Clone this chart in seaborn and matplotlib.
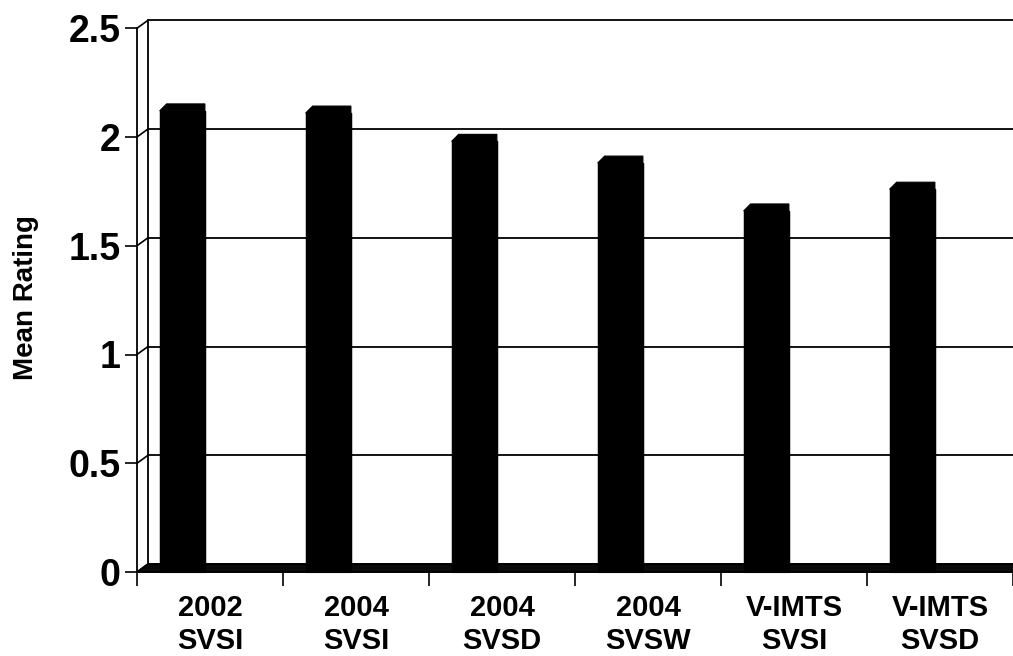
import matplotlib
matplotlib.use("Agg")
import matplotlib.pyplot as plt
import matplotlib.transforms as mtransforms
from matplotlib.patches import Polygon
from matplotlib.lines import Line2D
import numpy as np
import pandas as pd
import seaborn as sns


# ---- Data ----------------------------------------------------####

categories = ['2002\nSVSI', '2004\nSVSI', '2004\nSVSD', '2004\nSVSW', 'V-IMTS\nSVSI', 'V-IMTS\nSVSD']
mean_rating = [2.12, 2.11, 1.98, 1.88, 1.66, 1.76]
y_ticks = [0, 0.5, 1, 1.5, 2, 2.5]
y_tick_labels = ['0', '0.5', '1', '1.5', '2', '2.5']

df = pd.DataFrame({'group': categories, 'rating': mean_rating})


# ---- Plot -----------------------------------------------------------####

sns.set_style('white')
plt.rcParams['font.family'] = ['Liberation Sans', 'DejaVu Sans']
plt.rcParams['font.weight'] = 'bold'
plt.rcParams['text.color'] = 'black'
plt.rcParams['axes.labelcolor'] = 'black'
plt.rcParams['xtick.color'] = 'black'
plt.rcParams['ytick.color'] = 'black'

fig = plt.figure(figsize=(10.13, 6.56), dpi=100)
ax = fig.add_axes([137 / 1013, 84 / 656, 876 / 1013, 543.75 / 656])

sns.barplot(data=df, x='group', y='rating', color='black', width=0.31,
            saturation=1, ax=ax, zorder=3)

ax.set_xlim(-0.5, len(categories) - 0.5)
ax.set_ylim(0, 2.5)

# shift bars toward left of each category (3D clustered look)
for p in ax.patches:
    p.set_x(p.get_x() - 0.19)
    p.set_edgecolor('black')

# 3d offsets in pixels
dx, dy = 11, 8
ident = mtransforms.IdentityTransform()
fig.canvas.draw()
to_px = ax.transData.transform

# back wall gridlines
for v in y_ticks:
    x0, y0 = to_px((-0.5, v))
    x1, _ = to_px((len(categories) - 0.5, v))
    fig.add_artist(Line2D([x0 + dx, x1 + dx], [y0 + dy, y0 + dy], transform=ident,
                          color='black', lw=1.3))
    # connector from front tick to back wall
    fig.add_artist(Line2D([x0, x0 + dx], [y0, y0 + dy], transform=ident, color='black', lw=1.2))

# left walls
xb, yb = to_px((-0.5, 0))
_, yt = to_px((-0.5, 2.5))
fig.add_artist(Line2D([xb + dx, xb + dx], [yb + dy, yt + dy], transform=ident, color='black', lw=1.3))

# floor band
xr, _ = to_px((len(categories) - 0.5, 0))
fig.add_artist(Polygon([[xb, yb], [xr, yb], [xr + dx, yb + dy], [xb + dx, yb + dy]],
                       closed=True, transform=ident, facecolor='#0a0a0a', edgecolor='black', lw=1.2))

# bevelled bar tops
bev = 7
for p in ax.patches:
    bx0, by = to_px((p.get_x(), p.get_height()))
    bx1, _ = to_px((p.get_x() + p.get_width(), p.get_height()))
    fig.add_artist(Polygon([[bx0, by], [bx0 + bev, by + bev], [bx1, by + bev], [bx1, by]],
                           closed=True, transform=ident, facecolor='black', edgecolor='black', lw=0.8))
    fig.add_artist(Polygon([[bx0, yb], [bx0, by], [bx1, by], [bx1, yb]],
                           closed=True, transform=ident, facecolor='black', edgecolor='black', lw=0.8))

# axes styling
for side in ['top', 'right']:
    ax.spines[side].set_visible(False)
ax.spines['left'].set_linewidth(1.3)
ax.spines['bottom'].set_linewidth(1.3)
ax.spines['left'].set_color('black')
ax.spines['bottom'].set_color('black')

ax.set_yticks(y_ticks)
ax.set_yticklabels(y_tick_labels, fontsize=27, fontweight='bold')
ax.tick_params(axis='y', length=9, width=1.2, color='black', pad=3, left=True)

ax.set_xticks(range(len(categories)))
ax.set_xticklabels(categories, fontsize=21, fontweight='bold', linespacing=1.2)
ax.set_xticks(np.arange(-0.5, len(categories), 1), minor=True)
ax.tick_params(axis='x', which='major', length=0, pad=16)
ax.tick_params(axis='x', which='minor', length=10, width=1.2, color='black', bottom=True)

ax.set_xlabel('')
ax.set_ylabel('Mean Rating', fontsize=20, fontweight='bold')
ax.yaxis.set_label_coords(-0.112, 0.505)

fig.savefig('out.png', dpi=100)
